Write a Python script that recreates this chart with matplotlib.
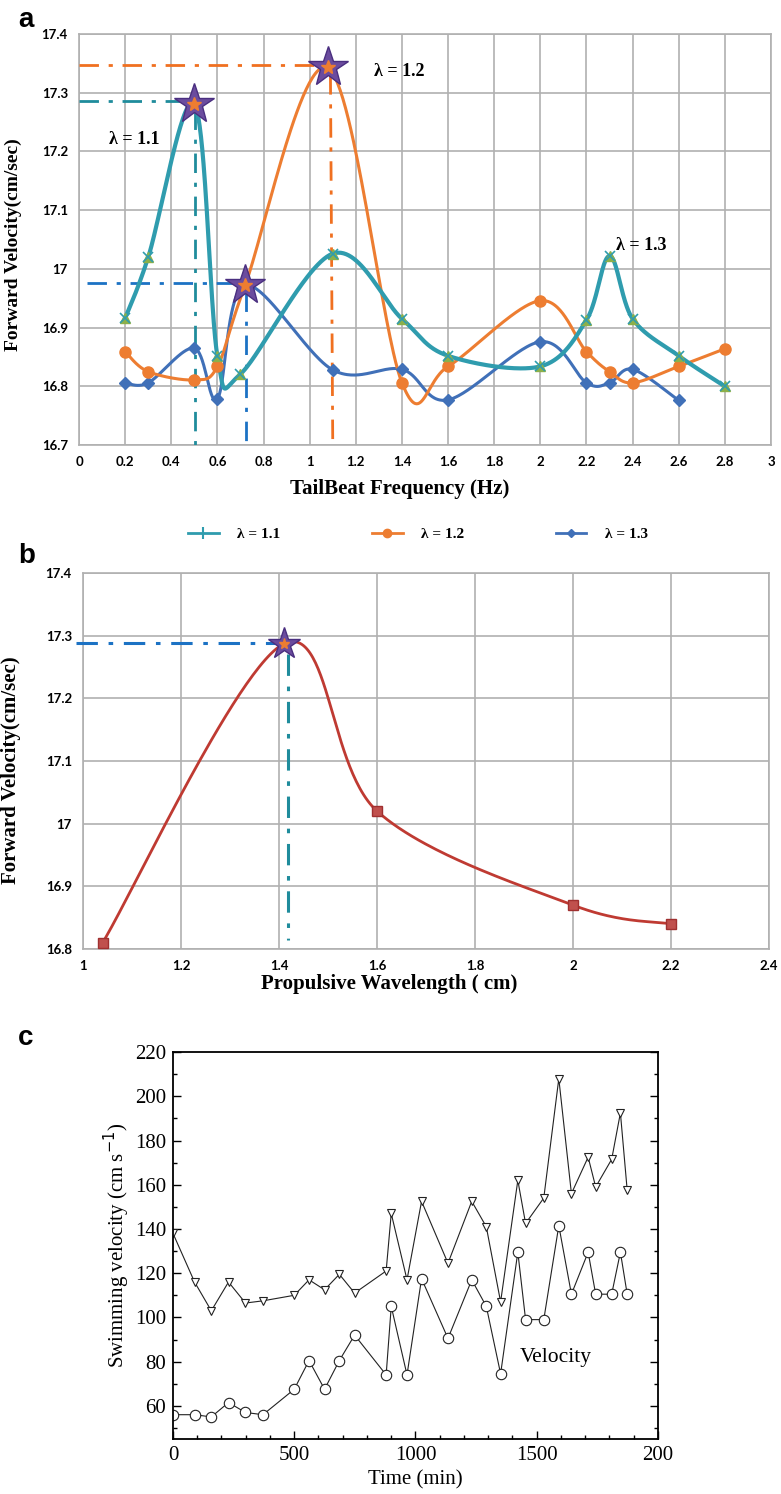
import numpy as np
import matplotlib
matplotlib.use("Agg")
import matplotlib.pyplot as plt
from matplotlib.lines import Line2D
from matplotlib.ticker import MultipleLocator

# ---------------- data ----------------
# Panel a: forward velocity vs tail-beat frequency
f11_x = [0.2, 0.3, 0.5, 0.6, 0.7, 1.1, 1.4, 1.6, 2.0, 2.2, 2.3, 2.4, 2.6, 2.8]
f11_y = [16.916, 17.02, 17.281, 16.851, 16.821, 17.026, 16.915, 16.852, 16.834, 16.913, 17.022, 16.915, 16.852, 16.800]
f12_x = [0.2, 0.3, 0.5, 0.6, 0.72, 1.08, 1.4, 1.6, 2.0, 2.2, 2.3, 2.4, 2.6, 2.8]
f12_y = [16.859, 16.825, 16.811, 16.834, 16.972, 17.342, 16.806, 16.834, 16.946, 16.859, 16.825, 16.806, 16.834, 16.864]
f13_x = [0.2, 0.3, 0.5, 0.6, 0.72, 1.1, 1.4, 1.6, 2.0, 2.2, 2.3, 2.4, 2.6]
f13_y = [16.806, 16.806, 16.865, 16.779, 16.972, 16.828, 16.829, 16.777, 16.876, 16.806, 16.806, 16.829, 16.776]
a_star_x = [0.5, 0.72, 1.08]
a_star_y = [17.281, 16.972, 17.344]
a_labels = ["λ = 1.1", "λ = 1.2", "λ = 1.3"]

# Panel b: forward velocity vs propulsive wavelength
wl_x = [1.04, 1.41, 1.6, 2.0, 2.2]
wl_y = [16.81, 17.287, 17.02, 16.87, 16.84]
b_star_x = [1.41]
b_star_y = [17.287]

# Panel c: swimming velocity vs time
t_min = [0, 89, 158, 229, 299, 371, 500, 561, 625, 686, 749, 879, 900, 965, 1025,
         1134, 1232, 1292, 1351, 1422, 1454, 1529, 1591, 1643, 1712, 1743, 1809, 1845, 1873]
v_tri = [138, 116, 103, 116, 106.5, 107.5, 110, 117, 112.5, 119.5, 111, 121, 147, 117, 152.5,
         124.5, 152.5, 141, 107, 162, 142.5, 154, 208, 156, 172.5, 159, 171.5, 192.5, 157.5]
v_cir = [56, 56, 55, 61.5, 57, 56, 67.5, 80.5, 67.5, 80.5, 92, 74, 105, 74, 117.5,
         90.5, 117, 105, 74.5, 129.5, 99, 99, 141.5, 110.5, 129.5, 110.5, 110.5, 129.5, 110.5]
c_xticks = [0, 500, 1000, 1500, 2000]
c_xticklabels = ["0", "500", "1000", "1500", "200"]
c_yticks = [60, 80, 100, 120, 140, 160, 180, 200, 220]


def excel_smooth(x, y, n=60):
    P = np.column_stack([x, y]).astype(float)
    N = len(P)
    out = []
    s = np.linspace(0, 1, n)[:, None]
    for i in range(N - 1):
        p0 = P[i - 1] if i > 0 else P[i]
        p3 = P[i + 2] if i + 2 < N else P[i + 1]
        c1 = P[i] + (P[i + 1] - p0) / 6.0
        c2 = P[i + 1] - (p3 - P[i]) / 6.0
        seg = ((1 - s) ** 3) * P[i] + 3 * ((1 - s) ** 2) * s * c1 + 3 * (1 - s) * s ** 2 * c2 + s ** 3 * P[i + 1]
        out.append(seg if i == 0 else seg[1:])
    out = np.vstack(out)
    return out[:, 0], out[:, 1]


TEAL = "#2f9cae"
ORANGE = "#ed7d31"
BLUE = "#4070b8"
GREEN = "#8cb04a"
GRID = "#b0b0b0"
PURPLE = "#6b4c9e"
RED = "#bf3a32"

fig = plt.figure(figsize=(7.81, 14.94), dpi=100)

tick_font = dict(family="Lato", weight="bold", size=9.5)
label_font = dict(family="Liberation Serif", weight="bold")

# ================= Panel a =================
axA = fig.add_axes([0.1012, 0.7021, 0.886, 0.2751])
axA.set_xlim(0, 3)
axA.set_ylim(16.7, 17.4)
xt = np.round(np.arange(0, 3.01, 0.2), 1)
axA.set_xticks(xt, [f"{v:g}" for v in xt], **tick_font)
yt = np.round(np.arange(16.7, 17.401, 0.1), 1)
axA.set_yticks(yt, [f"{v:g}" for v in yt], **tick_font)
axA.tick_params(length=0, pad=8)
axA.grid(True, color=GRID, lw=1.2)
axA.set_axisbelow(True)
for sp in axA.spines.values():
    sp.set_color(GRID)
    sp.set_linewidth(1.2)
axA.set_xlabel("TailBeat Frequency (Hz)", fontsize=15, **label_font)
axA.xaxis.set_label_coords(0.464, -0.082)
axA.set_ylabel("Forward Velocity(cm/sec)", fontsize=14, **label_font)
axA.yaxis.set_label_coords(-0.082, 0.487)

# dash-dot guide lines
dd = (0, (7, 3.5, 1.5, 3.5))
axA.plot([0, 0.5], [17.286, 17.286], color="#1f8c9c", lw=2, ls=dd, zorder=3)
axA.plot([0.503, 0.503], [17.27, 16.7], color="#1f8c9c", lw=2, ls=dd, zorder=3)
axA.plot([0, 1.08], [17.348, 17.348], color="#f07020", lw=2, ls=dd, zorder=3)
axA.plot([1.09, 1.1], [17.33, 16.7], color="#f07020", lw=2, ls=dd, zorder=3)
axA.plot([0.035, 0.72], [16.976, 16.976], color="#1c72c4", lw=2, ls=dd, zorder=3)
axA.plot([0.725, 0.725], [16.96, 16.7], color="#1c72c4", lw=2, ls=dd, zorder=3)

sx, sy = excel_smooth(f13_x, f13_y)
axA.plot(sx, sy, color=BLUE, lw=2.2, zorder=4)
axA.plot(f13_x, f13_y, ls="none", marker="D", ms=6, color=BLUE, zorder=5)
sx, sy = excel_smooth(f12_x, f12_y)
axA.plot(sx, sy, color=ORANGE, lw=2.2, zorder=4)
axA.plot(f12_x, f12_y, ls="none", marker="o", ms=8, color=ORANGE, zorder=5)
sx, sy = excel_smooth(f11_x, f11_y)
axA.plot(sx, sy, color=TEAL, lw=3, zorder=4)
axA.plot(f11_x, f11_y, ls="none", marker="^", ms=7, color=GREEN, zorder=5)
axA.plot(f11_x, f11_y, ls="none", marker="x", ms=7, mew=1.2, color=TEAL, zorder=6)

axA.plot(a_star_x, a_star_y, ls="none", marker="*", ms=30, mfc=PURPLE, mec="#4a2f80", mew=1, zorder=7)
axA.plot(a_star_x, a_star_y, ls="none", marker="*", ms=10, mfc=ORANGE, mec=ORANGE, zorder=8)

axA.text(0.13, 17.22, a_labels[0], fontsize=13, va="center", ha="left", **label_font)
axA.text(1.28, 17.336, a_labels[1], fontsize=13, va="center", ha="left", **label_font)
axA.text(2.33, 17.04, a_labels[2], fontsize=13, va="center", ha="left", **label_font)

# legend between a and b
handles = [
    Line2D([], [], color=TEAL, lw=2, marker="|", ms=8, mew=1.5),
    Line2D([], [], color=ORANGE, lw=2, marker="o", ms=6),
    Line2D([], [], color=BLUE, lw=2, marker="D", ms=4),
]
fig.legend(handles, a_labels, loc="center", bbox_to_anchor=(0.535, 1 - 534 / 1494), ncol=3,
           frameon=False, prop=dict(family="Liberation Serif", weight="bold", size=11),
           columnspacing=6.0, handlelength=2.0, handletextpad=1.2)

# ================= Panel b =================
axB = fig.add_axes([0.1063, 0.3648, 0.8784, 0.2517])
axB.set_xlim(1, 2.4)
axB.set_ylim(16.8, 17.4)
xt = np.round(np.arange(1, 2.401, 0.2), 1)
axB.set_xticks(xt, [f"{v:g}" for v in xt], **tick_font)
yt = np.round(np.arange(16.8, 17.401, 0.1), 1)
axB.set_yticks(yt, [f"{v:g}" for v in yt], **tick_font)
axB.tick_params(length=0, pad=8)
axB.grid(True, color=GRID, lw=1.2)
axB.set_axisbelow(True)
for sp in axB.spines.values():
    sp.set_color(GRID)
    sp.set_linewidth(1.2)
axB.set_xlabel("Propulsive Wavelength ( cm)", fontsize=15, **label_font)
axB.xaxis.set_label_coords(0.447, -0.066)
axB.set_ylabel("Forward Velocity(cm/sec)", fontsize=15, **label_font)
axB.yaxis.set_label_coords(-0.09, 0.476)

axB.plot([0.985, 1.41], [17.288, 17.288], color="#1c72c4", lw=2.2, ls=dd, zorder=3, clip_on=False)
axB.plot([1.418, 1.418], [17.27, 16.815], color="#1f8c9c", lw=2.2, ls=dd, zorder=3)
sx, sy = excel_smooth(wl_x, wl_y)
axB.plot(sx, sy, color=RED, lw=2, zorder=4)
axB.plot(wl_x[:1] + wl_x[2:], wl_y[:1] + wl_y[2:], ls="none", marker="s", ms=7,
         mfc="#c0504d", mec="#a03030", zorder=5)
axB.plot(b_star_x, b_star_y, ls="none", marker="*", ms=24, mfc=PURPLE, mec="#4a2f80", mew=1, zorder=7)
axB.plot(b_star_x, b_star_y, ls="none", marker="*", ms=8, mfc=ORANGE, mec=ORANGE, zorder=8)

# ================= Panel c =================
axC = fig.add_axes([0.2215, 0.0368, 0.621, 0.259])
axC.set_xlim(0, 2000)
axC.set_ylim(45, 220)
serif = dict(family="Liberation Serif", size=15)
axC.set_xticks(c_xticks, c_xticklabels, **serif)
axC.set_yticks(c_yticks, [str(v) for v in c_yticks], **serif)
axC.xaxis.set_minor_locator(MultipleLocator(100))
axC.yaxis.set_minor_locator(MultipleLocator(10))
axC.tick_params(which="both", direction="in", right=True, top=False, width=1)
axC.tick_params(which="major", length=6, pad=5)
axC.tick_params(which="minor", length=3)
for sp in axC.spines.values():
    sp.set_linewidth(1.3)
axC.set_xlabel("Time (min)", family="Liberation Serif", size=15, labelpad=4)
axC.set_ylabel("Swimming velocity (cm s$^{-1}$)", family="Liberation Serif", size=15, labelpad=2)
axC.plot(t_min, v_tri, color="#222222", lw=0.8, marker="v", ms=6, mfc="white", mec="#222222", mew=0.8)
axC.plot(t_min, v_cir, color="#222222", lw=0.8, marker="o", ms=7.5, mfc="white", mec="#222222", mew=0.8)
axC.text(1430, 82, "Velocity", family="Liberation Serif", size=15.5, va="center", ha="left")

# panel letters
fig.text(18 / 781, 1 - 20 / 1494, "a", family="Liberation Sans", weight="bold", size=20, va="center")
fig.text(18 / 781, 1 - 556 / 1494, "b", family="Liberation Sans", weight="bold", size=20, va="center")
fig.text(18 / 781, 1 - 1038 / 1494, "c", family="Liberation Sans", weight="bold", size=20, va="center")

fig.savefig("out.png", dpi=100)
